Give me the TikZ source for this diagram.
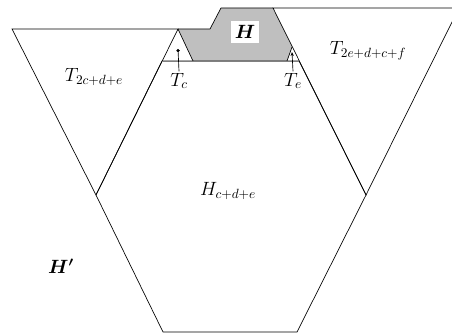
\documentclass[tikz,border=0pt]{standalone}
\usepackage{amsmath, amssymb}
\usepackage{bm}
\usepackage{tikz}
\usetikzlibrary{arrows.meta, calc, positioning}

\begin{document}
\begin{tikzpicture}[
    x=0.75pt, y=-0.75pt,
    edge/.style={line width=0.5pt, black},
    region/.style={font=\fontsize{14}{16}\selectfont},
    tag/.style={font=\fontsize{14}{16}\selectfont, inner sep=1pt},
    pointer/.style={-{Stealth[length=3pt, width=2.5pt]}, line width=0.5pt},
    stick/.style={-{Circle[length=2.4pt]}, line width=0.5pt}
]
    \useasboundingbox (0,0) rectangle (452,334);
    \clip (0,0) rectangle (452,334);

    % Eckpunkte
    \coordinate (tl) at (12,29);
    \coordinate (apex) at (178,29);
    \coordinate (step) at (210,29);
    \coordinate (stepup) at (221,8);
    \coordinate (rtl) at (273,8);
    \coordinate (rtr) at (459,8);
    \coordinate (lbot) at (96,195);
    \coordinate (rbot) at (366,195);
    \coordinate (hl) at (162,61);
    \coordinate (hr) at (299,61);
    \coordinate (hbl) at (163,332);
    \coordinate (hbr) at (297,332);
    \coordinate (tcb) at (193,61);
    \coordinate (tetop) at (292,47);
    \coordinate (teb) at (287,61);

    % graues Gebiet H
    \fill[gray!50] (apex) -- (step) -- (stepup) -- (rtl) -- (tetop) -- (teb) -- (tcb) -- cycle;

    % Dreiecke
    \draw[edge] (tl) -- (apex) -- (lbot) -- cycle;
    \draw[edge] (rtl) -- (rtr) -- (rbot) -- cycle;
    \draw[edge] (apex) -- (step) -- (stepup) -- (rtl);
    \draw[edge] (apex) -- (tcb);
    \draw[edge] (tetop) -- (teb);

    % Sechseck
    \draw[edge] (hl) -- (hr) -- (rbot) -- (hbr) -- (hbl) -- (lbot) -- cycle;
    \draw[line width=0.6pt, gray] (hl) -- (hr);

    % Beschriftungen
    \node[tag, fill=white, inner sep=3pt] (hlab) at (245,32) {$\bm{H}$};
    \node[region] (tleft) at (94,77) {$T_{2c+d+e}$};
    \node[region] (tright) at (368,51) {$T_{2e+d+c+f}$};
    \node[region] (hmid) at (228,191) {$H_{c+d+e}$};
    \node[tag] (hprime) at (61,266) {$\bm{H'}$};
    \node[tag] (tclab) at (179,81) {$T_c$};
    \node[tag] (telab) at (293,81) {$T_e$};

    % Zeiger
    \coordinate (tcpt) at (178,49);
    \coordinate (tept) at (292,52);
    \draw[stick] (tclab.north) -- (tcpt);
    \draw[pointer] (telab.north) -- (tept);
\end{tikzpicture}
\end{document}
